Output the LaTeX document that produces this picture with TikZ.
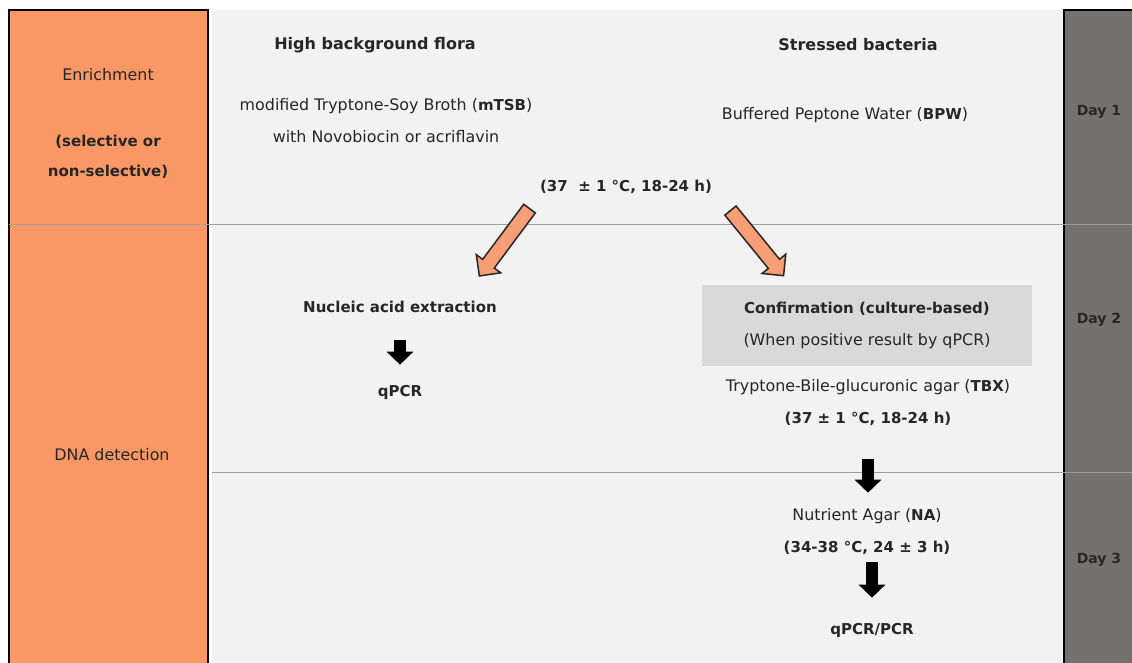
\documentclass[tikz,border=0pt]{standalone}
\usepackage{fontspec}
\setmainfont{DejaVu Sans}
\usetikzlibrary{arrows.meta,shapes.arrows}
\definecolor{stageorange}{RGB}{250,152,101}
\definecolor{arroworange}{RGB}{246,158,118}
\definecolor{panelgray}{RGB}{242,242,242}
\definecolor{daygray}{RGB}{118,113,113}
\definecolor{boxgray}{RGB}{217,217,217}
\definecolor{rulegray}{RGB}{160,160,160}
\definecolor{inkdark}{RGB}{38,38,38}
\newcommand\bfpart[1]{{\fontsize{15}{32}\selectfont\bfseries #1}}

\begin{document}
\begin{tikzpicture}[x=1pt,y=-1pt,font=\fontsize{15.9}{32}\selectfont,
  lbl/.style={text=inkdark,align=center,inner sep=1pt},
  boldlbl/.style={lbl,font=\fontsize{15}{30}\selectfont\bfseries},
  headlbl/.style={lbl,font=\fontsize{16}{18}\selectfont\bfseries},
  daylbl/.style={lbl,text=black!85,font=\fontsize{14}{16}\selectfont\bfseries},
  fatarrow/.style={line width=12pt,-{Triangle[width=26pt,length=13pt]}},
  openarrow/.style={single arrow,draw=black!85,line width=1.5pt,fill=arroworange,
    minimum height=84pt,inner sep=6.5pt,single arrow head extend=8pt,anchor=tail}]
\useasboundingbox[fill=white] (0,0) rectangle (1132,663);
% columns
\fill[panelgray] (212,10) rectangle (1063,670);
\draw[line width=1.6pt,fill=stageorange] (9,10) rectangle (208,670);
\draw[line width=1.6pt,fill=daygray] (1064,10) rectangle (1140,670);
\draw[rulegray,line width=0.9pt] (9,224)--(1132,224);
\draw[rulegray,line width=0.9pt] (212,472)--(1132,472);
% stage labels
\node(enr)[lbl] at (108,75){Enrichment};
\node(sel)[boldlbl] at (108,157){(selective or\\non-selective)};
\node(dna)[lbl] at (112,455){DNA detection};
% day labels
\node(day1)[daylbl] at (1099,112){Day 1};
\node(day2)[daylbl] at (1099,320){Day 2};
\node(day3)[daylbl] at (1099,560){Day 3};
% enrichment
\node(hbf)[headlbl] at (375,45){High background flora};
\node(sbac)[headlbl] at (858,45){Stressed bacteria};
\node(mtsb)[lbl] at (386,121){modified Tryptone-Soy Broth (\bfpart{mTSB})\\with Novobiocin or acriflavin};
\node(bpw)[lbl] at (845,115){Buffered Peptone Water (\bfpart{BPW})};
\node(temp)[boldlbl] at (626,187){(37 \ ± 1 °C, 18-24 h)};
\coordinate(ltail) at (530,208);
\coordinate(rtail) at (730,210);
\node[openarrow,rotate=233.3] at (ltail){};
\node[openarrow,rotate=-50.8] at (rtail){};
% DNA detection
\node(nae)[boldlbl] at (400,307){Nucleic acid extraction};
\node(qpcr)[boldlbl] at (400,392){qPCR};
\node(conf)[lbl,fill=boxgray,minimum width=330pt,minimum height=81pt] at (867,325.5){\bfpart{Confirmation (culture-based)}\\(When positive result by qPCR)};
\node(tbx)[lbl] at (868,403){Tryptone-Bile-glucuronic agar (\bfpart{TBX})\\\bfpart{(37 ± 1 °C, 18-24 h)}};
\node(na)[lbl] at (867,532){Nutrient Agar (\bfpart{NA})\\\bfpart{(34-38 °C, 24 ± 3 h)}};
\node(pcr)[boldlbl] at (872,630){qPCR/PCR};
\draw[fatarrow,shorten <=26pt,shorten >=19pt] (nae)--(qpcr);
\draw[fatarrow,shorten <=32pt,shorten >=15pt] (tbx.south)--(tbx.south |- na.north);
\draw[fatarrow,shorten <=6pt,shorten >=24pt] (na.south -| pcr)--(pcr.north);
\end{tikzpicture}
\end{document}
